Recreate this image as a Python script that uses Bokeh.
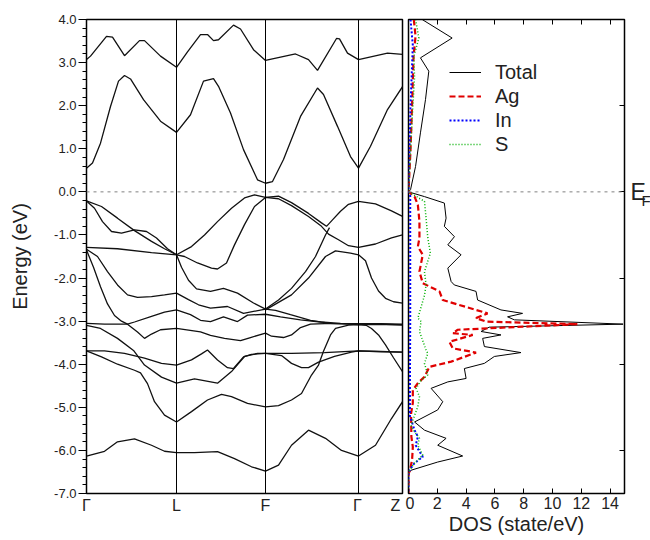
from bokeh.plotting import figure
from bokeh.layouts import row
from bokeh.models import (Range1d, FixedTicker, Span, LinearAxis, Legend,
                          LegendItem, NumeralTickFormatter)
from bokeh.core.properties import value
from bokeh.embed import file_html
from bokeh.resources import INLINE

FONT = "Liberation Sans"

# ---------------- k-path (band structure) ----------------
k_ticks = [0.0, 0.90, 1.79, 2.72, 3.16]
k_label_pos = [0.0, 0.90, 1.79, 2.71, 3.09]
k_labels = ["Γ", "L", "F", "Γ", "Z"]
energy_ticks = [-7, -6, -5, -4, -3, -2, -1, 0, 1, 2, 3, 4]
fermi_level = 0.0

# conduction bands (k, E in eV)
cb_1 = [(0.00, 0.55), (0.06, 0.67), (0.14, 1.13), (0.24, 1.98), (0.32, 2.57), (0.38, 2.70),
        (0.44, 2.62), (0.57, 2.14), (0.74, 1.64), (0.90, 1.38), (1.04, 1.79), (1.17, 2.57),
        (1.27, 2.63), (1.32, 2.45), (1.44, 1.83), (1.57, 0.98), (1.71, 0.28), (1.79, 0.20),
        (1.86, 0.24), (1.97, 0.75), (2.14, 1.75), (2.31, 2.41), (2.37, 2.26), (2.51, 1.52),
        (2.64, 0.82), (2.72, 0.55), (2.84, 1.06), (3.01, 1.91), (3.16, 2.44)]
cb_2 = [(0.00, 3.07), (0.04, 3.15), (0.20, 3.61), (0.26, 3.59), (0.38, 3.16), (0.53, 3.51),
        (0.58, 3.51), (0.74, 3.15), (0.90, 2.89), (1.01, 3.25), (1.14, 3.65), (1.21, 3.65),
        (1.27, 3.51), (1.32, 3.53), (1.47, 3.87), (1.54, 3.78), (1.67, 3.30), (1.79, 3.05),
        (2.09, 3.20), (2.22, 3.07), (2.31, 2.82), (2.50, 3.56), (2.53, 3.55), (2.61, 3.22),
        (2.72, 3.07), (3.01, 3.22), (3.16, 3.19)]

# valence bands (k, E in eV)
vb_01 = [(0.00, -0.21), (0.15, -0.34), (0.31, -0.61), (0.48, -0.90), (0.65, -1.15), (0.78, -1.32),
         (0.90, -1.46), (1.05, -1.27), (1.18, -1.00), (1.31, -0.69), (1.45, -0.38), (1.58, -0.14),
         (1.68, -0.07), (1.79, -0.13), (1.92, -0.10), (2.05, -0.25), (2.22, -0.50), (2.35, -0.72),
         (2.40, -0.80), (2.46, -0.65), (2.54, -0.45), (2.62, -0.29), (2.72, -0.22), (2.89, -0.28),
         (3.05, -0.44), (3.16, -0.57)]
vb_02 = [(0.00, -0.21), (0.08, -0.38), (0.16, -0.69), (0.25, -0.92), (0.35, -0.96), (0.48, -0.88),
         (0.60, -0.92), (0.70, -1.07), (0.81, -1.32), (0.90, -1.46), (0.98, -1.50), (1.11, -1.65),
         (1.25, -1.77), (1.31, -1.79), (1.40, -1.65), (1.48, -1.23), (1.58, -0.76), (1.68, -0.34),
         (1.79, -0.13), (1.92, -0.16), (2.05, -0.32), (2.22, -0.57), (2.35, -0.80), (2.42, -0.98),
         (2.52, -1.11), (2.62, -1.25), (2.72, -1.29), (2.89, -1.21), (3.05, -1.07), (3.16, -1.00)]
vb_03 = [(0.00, -1.29), (0.31, -1.32), (0.65, -1.41), (0.90, -1.46), (0.95, -1.75), (1.02, -2.05),
         (1.10, -2.25), (1.24, -2.31), (1.37, -2.24), (1.51, -2.35), (1.67, -2.58), (1.79, -2.72),
         (1.92, -2.51), (2.05, -2.24), (2.19, -1.85), (2.29, -1.50), (2.39, -1.00), (2.43, -0.83)]
vb_04 = [(0.00, -1.33), (0.11, -1.50), (0.21, -1.85), (0.31, -2.16), (0.41, -2.39), (0.51, -2.45),
         (0.65, -2.43), (0.78, -2.39), (0.90, -2.35), (1.02, -2.50), (1.12, -2.62), (1.24, -2.70),
         (1.41, -2.66), (1.57, -2.82), (1.79, -2.72), (1.89, -2.75), (2.04, -2.85), (2.24, -2.98),
         (2.44, -3.05), (2.72, -3.08), (3.16, -3.08)]
vb_05 = [(0.00, -1.35), (0.07, -1.75), (0.14, -2.20), (0.21, -2.60), (0.28, -2.87), (0.35, -3.00),
         (0.41, -3.07), (0.51, -3.25), (0.58, -3.40), (0.65, -3.30), (0.74, -3.20), (0.90, -3.17),
         (1.14, -3.25), (1.24, -3.33), (1.38, -3.40), (1.54, -3.45), (1.64, -3.38), (1.79, -3.28),
         (1.85, -3.35), (1.97, -3.38), (2.05, -3.32), (2.14, -3.15), (2.24, -3.07), (2.38, -3.06),
         (2.54, -3.06), (2.72, -3.06), (2.94, -3.07), (3.16, -3.09)]
vb_06 = [(0.00, -3.10), (0.14, -3.17), (0.31, -3.40), (0.47, -3.68), (0.58, -4.02), (0.75, -4.30),
         (0.90, -4.44), (1.08, -4.34), (1.31, -4.44), (1.45, -4.17), (1.58, -3.82), (1.71, -3.75),
         (1.79, -3.75), (1.95, -3.80), (2.05, -3.98), (2.15, -4.08), (2.22, -4.08), (2.32, -3.95),
         (2.48, -3.82), (2.65, -3.72), (2.72, -3.69), (2.94, -3.71), (3.16, -3.72)]
vb_07 = [(0.00, -3.05), (0.18, -3.07), (0.41, -3.07), (0.48, -3.02), (0.65, -2.89), (0.78, -2.79),
         (0.90, -2.74), (1.04, -2.85), (1.14, -2.98), (1.24, -3.01), (1.37, -2.90), (1.51, -3.01),
         (1.61, -2.86), (1.79, -2.84), (1.94, -2.90), (2.14, -2.97), (2.34, -3.02), (2.54, -3.05),
         (2.72, -3.06), (2.94, -3.06), (3.16, -3.07)]
vb_08 = [(0.00, -3.69), (0.18, -3.69), (0.38, -3.75), (0.58, -3.86), (0.75, -3.98), (0.90, -4.02),
         (1.05, -3.90), (1.15, -3.76), (1.21, -3.67), (1.31, -3.90), (1.41, -4.08), (1.47, -4.10),
         (1.57, -3.83), (1.65, -3.77), (1.79, -3.75), (2.05, -3.75), (2.38, -3.73), (2.72, -3.69),
         (2.94, -3.70), (3.16, -3.72)]
vb_09 = [(0.00, -3.69), (0.15, -3.83), (0.31, -4.00), (0.48, -4.14), (0.54, -4.20), (0.61, -4.45),
         (0.68, -4.87), (0.78, -5.18), (0.90, -5.34), (1.05, -5.10), (1.21, -4.83), (1.35, -4.70),
         (1.45, -4.75), (1.61, -4.91), (1.79, -4.99), (1.92, -4.96), (2.05, -4.83), (2.15, -4.68),
         (2.25, -4.25), (2.32, -4.02), (2.37, -3.70), (2.44, -3.32), (2.49, -3.17), (2.62, -3.09),
         (2.72, -3.08), (2.80, -3.10), (2.85, -3.17), (2.92, -3.32), (2.99, -3.55), (3.07, -3.85),
         (3.16, -4.17)]
vb_10 = [(0.00, -6.13), (0.18, -6.02), (0.31, -5.80), (0.48, -5.73), (0.65, -5.88), (0.78, -6.02),
         (0.90, -6.05), (1.08, -6.05), (1.31, -6.03), (1.48, -6.19), (1.65, -6.38), (1.79, -6.48),
         (1.92, -6.34), (2.05, -5.88), (2.22, -5.53), (2.39, -5.72), (2.55, -6.00), (2.72, -6.13),
         (2.89, -5.88), (3.05, -5.26), (3.16, -4.87)]
vb_11 = [(1.79, -2.74), (2.05, -2.39), (2.22, -2.00), (2.39, -1.50), (2.49, -1.37), (2.64, -1.42),
         (2.72, -1.46), (2.79, -1.60), (2.85, -2.00), (2.92, -2.30), (2.99, -2.47), (3.07, -2.55),
         (3.16, -2.58)]

bands = [cb_1, cb_2, vb_01, vb_02, vb_03, vb_04, vb_05, vb_06, vb_07, vb_08, vb_09, vb_10, vb_11]

# ---------------- DOS (E in eV, DOS in state/eV) ----------------
dos_total_e = [4.00, 3.57, 3.11, 2.80, 2.14, 1.37, 0.59, 0.05, 0.00, -0.11, -0.26, -0.61, -0.80,
               -1.04, -1.23, -1.46, -1.77, -2.08, -2.16, -2.31, -2.51, -2.74, -2.82, -2.90, -2.97,
               -3.07, -3.14, -3.24, -3.32, -3.40, -3.59, -3.73, -3.82, -3.98, -4.10, -4.33, -4.41,
               -4.56, -4.87, -5.06, -5.34, -5.53, -5.72, -5.88, -6.13, -6.27, -6.46, -6.53, -7.00]
dos_total = [0.95, 3.03, 0.83, 1.41, 1.18, 0.83, 0.49, 0.14, 0.00, 1.11, 2.49, 2.61, 2.49,
             3.19, 2.73, 3.65, 2.73, 2.96, 3.18, 4.69, 4.80, 6.42, 7.92, 6.88, 7.35,
             14.90, 5.60, 5.04, 6.42, 5.15, 5.27, 7.81, 5.96, 5.27, 3.88, 4.00, 2.73,
             1.57, 2.38, 2.03, 0.42, 1.11, 2.61, 2.03, 3.76, 2.03, 0.18, 0.00, 0.00]

dos_ag_e = [4.00, 3.61, 3.14, 2.14, 0.97, 0.00, -0.11, -0.30, -0.69, -1.07, -1.27, -1.46, -1.85,
            -2.12, -2.31, -2.51, -2.82, -2.93, -3.01, -3.07, -3.20, -3.28, -3.32, -3.48, -3.63,
            -3.73, -3.94, -4.06, -4.29, -4.44, -4.60, -4.90, -5.14, -5.68, -5.92, -6.22, -6.46,
            -6.55, -7.00]
dos_ag = [0.37, 0.49, 0.35, 0.26, 0.14, 0.00, 0.42, 0.65, 0.76, 0.76, 0.65, 0.99, 0.76,
          0.99, 2.15, 2.38, 5.49, 4.69, 5.38, 11.73, 3.42, 3.07, 4.46, 2.84, 3.07,
          4.69, 2.96, 1.46, 1.11, 0.65, 0.30, 0.30, 0.18, 0.20, 0.30, 0.25, 0.10,
          0.00, 0.00]

dos_in_e = [4.00, 3.40, 2.00, 0.00, -0.10, -1.50, -3.00, -4.50, -5.20, -5.53, -5.68, -5.88,
            -6.15, -6.30, -6.50, -7.00]
dos_in = [0.14, 0.30, 0.14, 0.00, 0.12, 0.12, 0.12, 0.10, 0.10, 0.42, 0.65, 0.50,
          0.99, 0.40, 0.00, 0.00]

dos_s_e = [4.00, 3.57, 3.14, 2.66, 1.74, 0.00, -0.22, -0.61, -1.07, -1.42, -1.85, -2.16, -2.40,
           -2.93, -3.01, -3.24, -3.67, -3.75, -3.98, -4.25, -4.37, -4.56, -4.75, -4.98, -5.30,
           -5.45, -5.72, -5.88, -6.11, -6.30, -6.50, -7.00]
dos_s = [0.49, 0.72, 0.37, 0.42, 0.26, 0.00, 1.11, 1.22, 1.34, 1.52, 1.11, 1.22, 1.11,
         0.65, 0.88, 0.76, 1.22, 1.34, 1.11, 1.34, 0.88, 0.53, 0.76, 0.65, 0.30,
         0.18, 0.76, 0.65, 0.99, 0.40, 0.00, 0.00]

dos_ticks = [0, 2, 4, 6, 8, 10, 12, 14]
dos_side_ticks = [-6, -4, -2, 0, 2, 4]

# ---------------- figures ----------------
H = 540
TOP = 19
BOTTOM = 47
y_range = Range1d(-7, 4)

p1 = figure(width=405, height=H, x_range=Range1d(k_ticks[0], k_ticks[-1]), y_range=y_range,
            output_backend="svg", toolbar_location=None,
            min_border_left=86, min_border_right=3, min_border_top=TOP, min_border_bottom=BOTTOM)
p1.outline_line_color = "black"
p1.outline_line_width = 1.5
p1.xgrid.visible = False
p1.ygrid.visible = False

p1.xaxis.ticker = FixedTicker(ticks=k_label_pos)
p1.xaxis.major_label_overrides = {k: lab for k, lab in zip(k_label_pos, k_labels)}
p1.xaxis.major_tick_out = 0
p1.xaxis.major_tick_in = 0
p1.xaxis.minor_tick_out = 0
p1.xaxis.axis_line_color = None
p1.xaxis.major_label_text_font = FONT
p1.xaxis.major_label_text_font_size = "16px"
p1.xaxis.major_label_standoff = 3
p1.xaxis.major_label_text_color = "#222222"

p1.yaxis.ticker = FixedTicker(ticks=energy_ticks,
                              minor_ticks=[round(-7 + 0.2 * i, 1) for i in range(56)])
p1.yaxis.formatter = NumeralTickFormatter(format="0.0")
p1.yaxis.major_tick_out = 8
p1.yaxis.major_tick_in = 0
p1.yaxis.minor_tick_out = 4
p1.yaxis.minor_tick_in = 0
p1.yaxis.axis_line_color = "black"
p1.yaxis.major_tick_line_color = "black"
p1.yaxis.minor_tick_line_color = "black"
p1.yaxis.major_label_text_font = FONT
p1.yaxis.major_label_text_font_size = "13px"
p1.yaxis.major_label_text_color = "#222222"
p1.yaxis.major_label_standoff = 2
p1.yaxis.axis_label = "Energy (eV)"
p1.yaxis.axis_label_text_font = FONT
p1.yaxis.axis_label_text_font_size = "20px"
p1.yaxis.axis_label_text_font_style = "normal"
p1.yaxis.axis_label_text_color = "#222222"
p1.yaxis.axis_label_standoff = 20

p1.multi_line([[pt[0] for pt in b] for b in bands], [[pt[1] for pt in b] for b in bands],
              line_color="#111111", line_width=1.3)

for kv in k_ticks[1:-1]:
    p1.add_layout(Span(location=kv, dimension="height", line_color="black", line_width=1))
p1.add_layout(Span(location=fermi_level, dimension="width", line_color="#808080", line_width=1,
                   line_dash="3 4"))

# DOS panel
p2 = figure(width=222, height=H, x_range=Range1d(0, 15), y_range=y_range,
            y_axis_location=None, output_backend="svg", toolbar_location=None,
            min_border_left=3, min_border_right=3, min_border_top=TOP, min_border_bottom=BOTTOM)
p2.outline_line_color = "black"
p2.outline_line_width = 1.5
p2.xgrid.visible = False
p2.ygrid.visible = False

p2.xaxis.ticker = FixedTicker(ticks=dos_ticks)
p2.xaxis.major_tick_in = 5
p2.xaxis.major_tick_out = 0
p2.xaxis.minor_tick_out = 0
p2.xaxis.axis_line_color = "black"
p2.xaxis.major_label_text_font = FONT
p2.xaxis.major_label_text_font_size = "16px"
p2.xaxis.major_label_text_color = "#222222"
p2.xaxis.major_label_standoff = 3
p2.xaxis.axis_label = "DOS (state/eV)"
p2.xaxis.axis_label_text_font = FONT
p2.xaxis.axis_label_text_font_size = "20px"
p2.xaxis.axis_label_text_font_style = "normal"
p2.xaxis.axis_label_text_color = "#222222"
p2.xaxis.axis_label_standoff = 1

top_axis = LinearAxis(ticker=FixedTicker(ticks=dos_ticks), major_tick_in=5, major_tick_out=0,
                      minor_tick_out=0, major_label_text_color=None,
                      major_label_text_font_size="1px", major_label_standoff=0,
                      axis_line_color="black")
p2.add_layout(top_axis, "above")
right_axis = LinearAxis(ticker=FixedTicker(ticks=dos_side_ticks), major_tick_in=5,
                        major_tick_out=0, minor_tick_out=0, major_label_text_color=None,
                        major_label_text_font_size="1px", major_label_standoff=0,
                        axis_line_color="black")
p2.add_layout(right_axis, "right")

r_tot = p2.line(dos_total, dos_total_e, line_color="black", line_width=1)
r_ag = p2.line(dos_ag, dos_ag_e, line_color="#e00000", line_width=2.2, line_dash="6 3")
r_in = p2.line(dos_in, dos_in_e, line_color="#0000ff", line_width=2, line_dash="2 2")
r_s = p2.line(dos_s, dos_s_e, line_color="#00b000", line_width=1.5, line_dash="1 2")

p2.add_layout(Span(location=fermi_level, dimension="width", line_color="#808080", line_width=1,
                   line_dash="3 4"))

legend = Legend(items=[LegendItem(label="Total", renderers=[r_tot]),
                       LegendItem(label="Ag", renderers=[r_ag]),
                       LegendItem(label="In", renderers=[r_in]),
                       LegendItem(label="S", renderers=[r_s])],
                location="top_left", margin=41, padding=0, spacing=0,
                border_line_color=None, background_fill_alpha=0,
                label_text_font=FONT, label_text_font_size="20px", label_text_color="#222222",
                glyph_width=32, glyph_height=24, label_height=24, label_standoff=14)
p2.add_layout(legend)

# narrow strip on the right that carries the E_F mark
p3 = figure(width=23, height=H, x_range=Range1d(0, 1), y_range=y_range,
            x_axis_location=None, y_axis_location=None, output_backend="svg",
            toolbar_location=None, min_border_left=0, min_border_right=0,
            min_border_top=TOP, min_border_bottom=BOTTOM)
p3.outline_line_color = None
p3.xgrid.visible = False
p3.ygrid.visible = False
p3.text(x=[0], y=[fermi_level], text=["E"], x_offset=3, text_baseline="middle",
        text_font=value(FONT), text_font_size="23px", text_color="#222222")
p3.text(x=[0], y=[fermi_level], text=["F"], x_offset=14, y_offset=9, text_baseline="middle",
        text_font=value(FONT), text_font_size="15px", text_color="#222222")

layout = row(p1, p2, p3)
open("out.html", "w").write(file_html(layout, INLINE))
